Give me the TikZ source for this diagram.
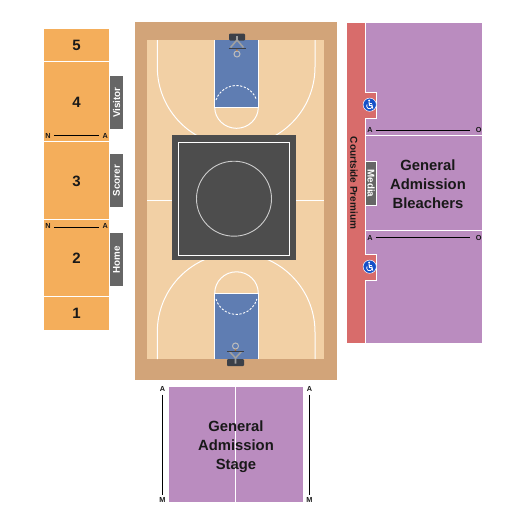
\documentclass[tikz,border=0pt]{standalone}
\usepackage{fontspec}
\setmainfont{Liberation Sans}
\definecolor{secorange}{HTML}{F4AE5B}
\definecolor{secpurple}{HTML}{BA8CBF}
\definecolor{secred}{HTML}{D86C6B}
\definecolor{woodout}{HTML}{D2A479}
\definecolor{woodin}{HTML}{F2D0A5}
\definecolor{paint}{HTML}{5F7DB2}
\definecolor{stagegrey}{HTML}{4D4D4D}
\definecolor{tabgrey}{HTML}{666666}
\definecolor{hoopdark}{HTML}{3C4048}
\definecolor{hoopgrey}{HTML}{A0A0A0}
\definecolor{adablue}{HTML}{1450C8}
\tikzset{
  bigtext/.style={font=\fontsize{14.8}{19}\selectfont\bfseries,text=black!90,align=center,inner sep=0pt},
  numtext/.style={font=\fontsize{15}{18}\selectfont\bfseries,text=black!90,inner sep=0pt},
  tabtext/.style={font=\fontsize{9.8}{12}\selectfont\bfseries,text=white,inner sep=0pt},
  seat/.style={font=\fontsize{7.3}{9}\selectfont\bfseries,text=black!90,inner xsep=3.2pt,inner ysep=2.8pt,outer sep=0pt},
  seatline/.style={draw=black,line width=1pt},
  courtline/.style={draw=white,line width=1pt},
  divline/.style={draw=white,line width=1pt},
  hoopline/.style={draw=hoopgrey,line width=1.6pt},
  adaicon/.pic={
    \fill[adablue] (0,0) circle (6.6);
    \draw[white,line width=.5pt] (0,0) circle (6.6);
    \fill[white] (-0.6,-4.3) circle (1);
    \draw[white,line width=1pt,line cap=round,line join=round] (-0.6,-3) -- (-0.3,0.9) -- (2.2,0.9) -- (3.1,3.6);
    \draw[white,line width=.8pt] (-0.3,-1.2) -- (1.8,-1.2);
    \draw[white,line width=.8pt] (-2.7,-0.3) arc[start angle=150,end angle=390,x radius=2.9,y radius=-2.9];
  }
}
\begin{document}
\begin{tikzpicture}[x=1pt,y=-1pt]
\useasboundingbox (0,0) rectangle (525,525);
% left block
\fill[secorange] (44,29) rectangle (109,60.7);
\fill[secorange] (44,62) rectangle (109,141);
\fill[secorange] (44,142) rectangle (109,219);
\fill[secorange] (44,220) rectangle (109,296);
\fill[secorange] (44,297) rectangle (109,330);
\node[numtext] (s5) at (76.5,45) {5};
\node[numtext] (s4) at (76.5,102) {4};
\node[numtext] (s3) at (76.5,181) {3};
\node[numtext] (s2) at (76.5,258.5) {2};
\node[numtext] (s1) at (76.5,313.5) {1};
\node[seat] (n4) at (48,135.5) {N};
\node[seat] (a4) at (105.3,135.5) {A};
\draw[seatline] (n4) -- (a4);
\node[seat] (n2) at (48,226) {N};
\node[seat] (a2) at (105.3,226) {A};
\draw[seatline] ([yshift=-1.7pt]n2.east) -- ([yshift=-1.7pt]a2.west);
\fill[tabgrey] (110,76) rectangle (123,129);
\fill[tabgrey] (110,154) rectangle (123,207);
\fill[tabgrey] (110,233) rectangle (123,286);
\node[tabtext,rotate=90] (tv) at (116.5,102.5) {Visitor};
\node[tabtext,rotate=90] (ts) at (116.5,180.5) {Scorer};
\node[tabtext,rotate=90] (th) at (116.5,259.5) {Home};
% court
\fill[woodout] (134.7,21.7) rectangle (336.7,380);
\fill[woodin] (147,40) rectangle (324,359);
\fill[paint] (214.7,40) rectangle (258.3,107.3);
\fill[paint] (214.7,293.3) rectangle (258.3,359);
\begin{scope}
\clip (147,40) rectangle (324,135);
\draw[courtline] (157.3,40) -- (157.3,67) arc[start angle=180,end angle=0,x radius=78.85,y radius=79] -- (315,40);
\end{scope}
\begin{scope}
\clip (147,260) rectangle (324,359);
\draw[courtline] (157.3,359) -- (157.3,332) arc[start angle=180,end angle=0,x radius=78.85,y radius=-79] -- (315,359);
\end{scope}
\draw[courtline] (214.7,40) -- (214.7,107.3) -- (258.3,107.3) -- (258.3,40);
\draw[courtline] (214.7,293.3) -- (258.3,293.3);
\draw[courtline] (214.7,359) -- (214.7,293.3);
\draw[courtline] (258.3,359) -- (258.3,293.3);
\draw[courtline] (214.7,107.3) arc[start angle=180,end angle=0,x radius=21.8,y radius=21];
\draw[courtline] (214.7,293.3) arc[start angle=180,end angle=0,x radius=21.8,y radius=-21.5];
\draw[white,line width=.9pt,dash pattern=on 2.2pt off 1.6pt] (216,100) arc[start angle=161,end angle=19,x radius=21.5,y radius=-21.5];
\draw[white,line width=.9pt,dash pattern=on 2.2pt off 1.6pt] (216,299) arc[start angle=164,end angle=16,x radius=21.3,y radius=21.3];
\draw[courtline] (147,200) -- (172,200);
\draw[courtline] (296,200) -- (324,200);
% stage
\fill[stagegrey] (172.3,135) rectangle (296.3,260.3);
\draw[white,line width=1pt] (178.3,142.3) rectangle (289.3,255.3);
\draw[white!80!black,line width=.9pt] (234,198.7) circle (37.5);
% hoops
\fill[hoopdark,rounded corners=1pt] (229,33.7) rectangle (245,40.5);
\draw[hoopline] (237,36) -- (237,40) (230.5,47.5) -- (237,40) -- (243.5,47.5);
\draw[hoopdark,line width=1pt] (228.5,48.7) -- (245.5,48.7);
\fill[orange!80!black] (236.8,50.2) circle (1);
\draw[hoopgrey!70!white,line width=1pt] (237,54) circle (3);
\fill[hoopdark,rounded corners=1pt] (227,359) rectangle (244,366);
\draw[hoopline] (235.5,363.5) -- (235.5,358) (229.5,351.5) -- (235.5,358) -- (241.5,351.5);
\draw[hoopdark,line width=1pt] (227,351) -- (244,351);
\fill[orange!80!black] (235.5,349.8) circle (1);
\draw[hoopgrey!70!white,line width=1pt] (235.5,346) circle (3);
% right block
\fill[secpurple] (365.5,23) rectangle (482,343);
\fill[secred] (347,23) rectangle (365.5,343);
\fill[secred] (365,92.7) rectangle (376.5,118.3);
\fill[secred] (365,254.3) rectangle (376.5,280);
\draw[divline] (365.5,23) -- (365.5,92.7) -- (376.5,92.7) -- (376.5,118.3) -- (365.5,118.3) -- (365.5,254.3) -- (376.5,254.3) -- (376.5,280) -- (365.5,280) -- (365.5,343);
\draw[divline] (365.5,135.7) -- (482,135.7);
\draw[divline] (365.5,230.7) -- (482,230.7);
\fill[tabgrey] (365.5,161.5) rectangle (376.5,205);
\draw[divline] (365.5,161.5) -- (376.5,161.5) -- (376.5,205) -- (365.5,205);
\node[tabtext,rotate=-90] (tm) at (371.2,183.3) {Media};
\node[font=\fontsize{10}{12}\selectfont\bfseries,text=black!90,rotate=-90,inner sep=0pt] (cp) at (354,183) {Courtside Premium};
\pic at (369.7,104.7) {adaicon};
\pic at (369.7,266.7) {adaicon};
\node[seat] (a1) at (370,130) {A};
\node[seat] (o1) at (478.7,130) {O};
\draw[seatline,shorten >=2.5pt] (a1) -- (o1);
\node[seat] (a3) at (370,237.7) {A};
\node[seat] (o3) at (478.7,237.7) {O};
\draw[seatline,shorten >=2.5pt] (a3) -- (o3);
\node[bigtext] (gab) at (428,184.5) {General\\Admission\\Bleachers};
% bottom block
\fill[secpurple] (169,387) rectangle (303,502);
\draw[divline] (235.3,387) -- (235.3,502);
\node[bigtext] (gas) at (236,446.5) {General\\Admission\\Stage};
\node[seat] (al) at (162.5,389.3) {A};
\node[seat] (ml) at (162.5,500) {M};
\draw[seatline] (al) -- (ml);
\node[seat] (ar) at (309.5,389.3) {A};
\node[seat] (mr) at (309.5,500) {M};
\draw[seatline] (ar) -- (mr);
\end{tikzpicture}
\end{document}
